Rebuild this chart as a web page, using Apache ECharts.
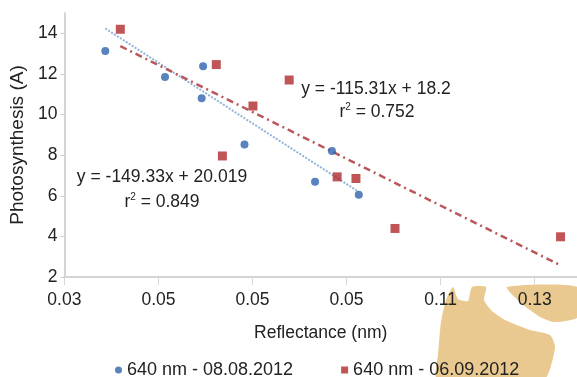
<!DOCTYPE html>
<html>
<head>
<meta charset="utf-8">
<script src="https://cdn.jsdelivr.net/npm/echarts@6/dist/echarts.min.js"></script>
<style>
  html, body { margin: 0; padding: 0; background: #fff; }
  #chart { width: 577px; height: 377px; }
</style>
</head>
<body>
<div id="chart"></div>
<script>
const xTickValues = [0.03, 0.05, 0.07, 0.09, 0.11, 0.13];
const xTickLabels = ["0.03", "0.05", "0.05", "0.05", "0.11", "0.13"];
const yTickValues = [2, 4, 6, 8, 10, 12, 14];

// 640 nm - 08.08.2012
const augX = [0.0387, 0.0514, 0.0595, 0.0592, 0.0683, 0.0833, 0.0869, 0.0926];
const augY = [13.13, 11.85, 12.38, 10.80, 8.53, 6.69, 8.21, 6.05];
// 640 nm - 06.09.2012
const sepX = [0.0419, 0.0623, 0.0778, 0.0701, 0.0636, 0.0880, 0.0920, 0.1003, 0.1355];
const sepY = [14.20, 12.46, 11.70, 10.42, 7.96, 6.93, 6.85, 4.39, 3.98];

// trendline coefficients as printed on the chart
const augFit = { slope: -149.33, intercept: 20.019, r2: 0.849 };
const sepFit = { slope: -115.31, intercept: 18.2, r2: 0.752 };

const FONT = "Liberation Sans, Arial, sans-serif";
const TXT = "#222";
const BLUE = "#2f64ae";
const RED = "#b02b2e";
const BLOB = "#e9c98f";

const pairs = (xs, ys) => xs.map((x, i) => [x, ys[i]]);
const trend = (xs, fit) => {
  const lo = Math.min(...xs), hi = Math.max(...xs);
  return [[lo, fit.slope * lo + fit.intercept], [hi, fit.slope * hi + fit.intercept]];
};

const supRich = { s: { fontSize: 10, fontFamily: FONT, padding: [0, 0, 10, 0] } };

const chart = echarts.init(document.getElementById("chart"), null, { renderer: "canvas" });

const option = {
  animation: false,
  backgroundColor: "#fff",
  textStyle: { fontFamily: FONT },
  grid: { left: 63, right: 0, top: 13, bottom: 100 },
  xAxis: {
    type: "value",
    min: 0.03,
    max: 0.139,
    interval: 0.02,
    name: "Reflectance (nm)",
    nameLocation: "middle",
    nameGap: 47,
    nameTextStyle: { color: TXT, fontSize: 17.5, fontFamily: FONT },
    axisLine: { show: true, lineStyle: { color: "#d4d4d4", width: 2 } },
    axisTick: { show: true, customValues: xTickValues, length: 8, lineStyle: { color: "#d8d8d8" } },
    axisLabel: {
      customValues: xTickValues,
      color: TXT,
      fontSize: 17.5,
      margin: 14,
      formatter: (v) => xTickLabels[Math.round((v - 0.03) / 0.02)] || ""
    },
    splitLine: { show: false }
  },
  yAxis: {
    type: "value",
    min: 2,
    max: 15,
    interval: 2,
    name: "Photosynthesis (A)",
    nameLocation: "middle",
    nameRotate: 90,
    nameGap: 33,
    nameTextStyle: { color: TXT, fontSize: 19, fontFamily: FONT, padding: [0, 0, 0, 0] },
    axisLine: { show: true, lineStyle: { color: "#d4d4d4", width: 2 } },
    axisTick: { show: true, customValues: yTickValues, length: 4, lineStyle: { color: "#cfcfcf" } },
    axisLabel: { customValues: yTickValues, color: TXT, fontSize: 17.5, margin: 7 },
    splitLine: { show: false }
  },
  legend: {
    left: 110,
    top: 356,
    itemWidth: 7,
    itemHeight: 7,
    itemGap: 48,
    textStyle: { color: TXT, fontSize: 18, fontFamily: FONT },
    data: [
      { name: "640 nm - 08.08.2012", icon: "circle" },
      { name: "640 nm - 06.09.2012", icon: "rect" }
    ]
  },
  series: [
    {
      name: "640 nm - 08.08.2012",
      type: "scatter",
      symbol: "circle",
      symbolSize: 8,
      itemStyle: { color: BLUE },
      data: pairs(augX, augY),
      z: 5
    },
    {
      name: "640 nm - 06.09.2012",
      type: "scatter",
      symbol: "rect",
      symbolSize: 9,
      itemStyle: { color: RED },
      data: pairs(sepX, sepY),
      z: 5
    },
    {
      name: "aug trend",
      type: "line",
      showSymbol: false,
      silent: true,
      lineStyle: { color: "#92b3d9", width: 2, type: [2, 1.5] },
      data: trend(augX, augFit),
      z: 3
    },
    {
      name: "sep trend",
      type: "line",
      showSymbol: false,
      silent: true,
      lineStyle: { color: "#b9575a", width: 2.5, type: [7, 4, 2, 4] },
      data: trend(sepX, sepFit),
      z: 3
    }
  ],
  graphic: [
    // watermark blob, bottom right
    {
      type: "polygon",
      z: -10,
      shape: {
        smooth: 0.2,
        points: [[453, 287], [458, 299], [468, 301], [472, 287], [486, 287], [484, 300],
                 [492, 311], [505, 320], [530, 330], [550, 335], [555, 346], [552, 362],
                 [545, 378], [437, 378], [438, 355], [441, 322], [446, 300]]
      },
      style: { fill: BLOB }
    },
    {
      type: "polygon",
      z: -10,
      shape: {
        smooth: 0.2,
        points: [[507, 287], [578, 287], [578, 317], [566, 321], [553, 322], [540, 317], [521, 303]]
      },
      style: { fill: BLOB }
    },
    {
      type: "text",
      x: 376, y: 89,
      style: {
        text: "y = " + sepFit.slope + "x + " + sepFit.intercept,
        font: "17.5px " + FONT, fill: TXT, textAlign: "center", textVerticalAlign: "middle"
      }
    },
    {
      type: "text",
      x: 377, y: 112,
      style: {
        text: "r{s|2} = " + sepFit.r2,
        font: "17.5px " + FONT, fill: TXT, textAlign: "center", textVerticalAlign: "middle",
        rich: supRich
      }
    },
    {
      type: "text",
      x: 162, y: 177,
      style: {
        text: "y = " + augFit.slope + "x + " + augFit.intercept,
        font: "17.5px " + FONT, fill: TXT, textAlign: "center", textVerticalAlign: "middle"
      }
    },
    {
      type: "text",
      x: 162, y: 202,
      style: {
        text: "r{s|2} = " + augFit.r2,
        font: "17.5px " + FONT, fill: TXT, textAlign: "center", textVerticalAlign: "middle",
        rich: supRich
      }
    }
  ]
};

chart.setOption(option);
</script>
</body>
</html>
